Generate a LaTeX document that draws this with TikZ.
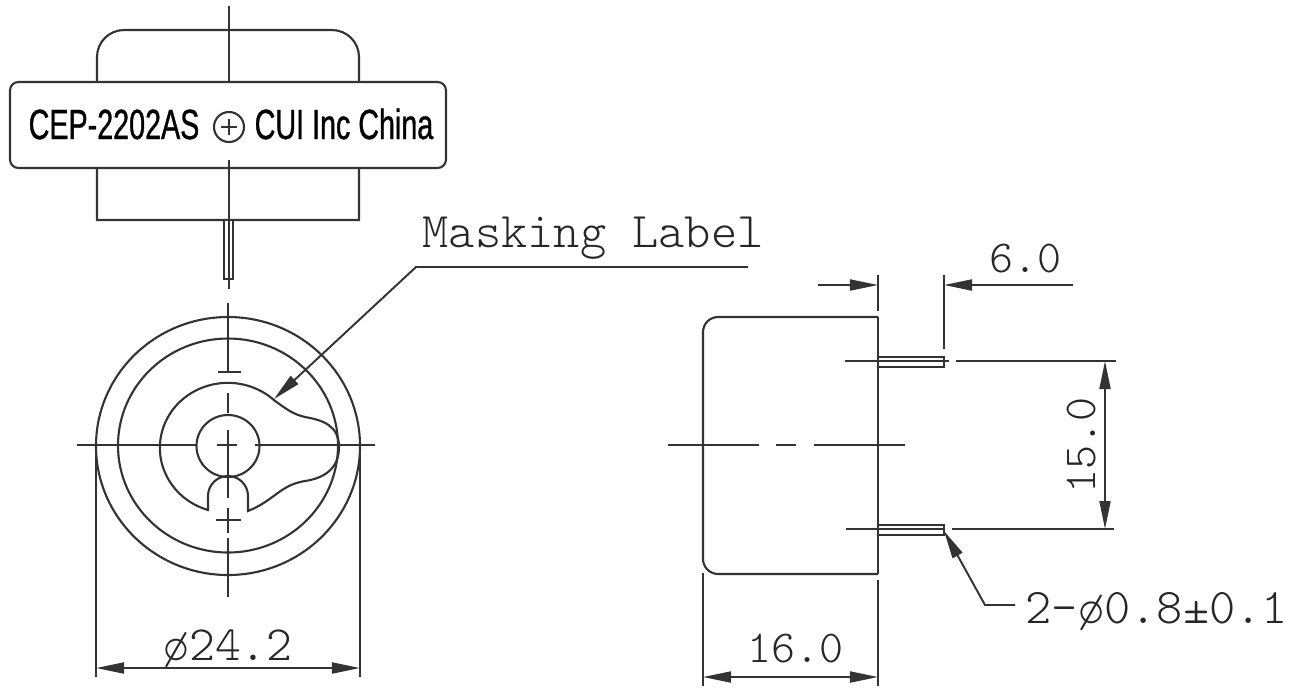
\documentclass[tikz,border=0pt]{standalone}
\usepackage{fontspec}
\newfontfamily\partfont[FakeStretch=0.68,FakeBold=0.8]{Liberation Sans}
\newfontfamily\dimfont{Latin Modern Mono Light}
\usetikzlibrary{arrows.meta}
\tikzset{
 partline/.style={line width=0.6pt, black!80},
 dimline/.style={line width=0.55pt, black!80},
 dimarrow/.style={dimline, -{Triangle[length=2.8mm,width=1.1mm]}},
 dimtext/.style={inner sep=0, text=black!85, font=\dimfont\fontsize{13}{13}\selectfont},
 widetext/.style={inner sep=0, text=black!85, font=\dimfont\fontsize{14.2}{14}\selectfont},
 parttext/.style={inner sep=0, anchor=base west, font=\partfont\fontsize{12}{12}\selectfont},
}
\begin{document}
\begin{tikzpicture} [x = 0.01cm, y=-0.01cm]
\useasboundingbox (0,0) rectangle (1297,687);
\draw[partline] (97,220) [rounded corners=7.7pt] -- (97,30) -- (359,30) [sharp corners] -- (359,220) -- cycle;
\draw[dimline] (229,6) -- (229,82);
\draw[partline, fill=white, rounded corners=2.4pt] (10,82) rectangle (446,168);
\draw[dimline] (229,160) -- (229,220);
\draw[partline, fill=white] (224,220) rectangle (233,279);
\draw[dimline] (229,220) -- (229,289);
\node[parttext] (partno) at (28,139) {CEP-2202AS};
\node[parttext] (maker) at (254,139) {CUI Inc China};
\draw[partline] (229,127) circle (15);
\draw[partline, line width=0.8pt] (221,127) -- (237,127) (229,119) -- (229,135);

\draw[partline] (228,446) ellipse (132 and 129) (228,445.5) ellipse (110 and 107) (228,446) ellipse (31.5 and 31);
\draw[partline] (208,510) arc[start angle=107, end angle=313, x radius=68, y radius=65]
 .. controls (285,408) and (292,414) .. (305,417)
 .. controls (322,420) and (339,425) .. (339,447)
 .. controls (339,468) and (325,478) .. (305,481)
 .. controls (280,485) and (275,500) .. (248,511)
 -- (248,496) arc[start angle=0, end angle=-180, radius=20] -- (208,511);
\foreach \a/\b in {77/197,217/237,255/375} {
 \draw[dimline] (\a,445) -- (\b,445);
}
\foreach \a/\b in {303/372,393/413,430/498,508/533,538/597} {
 \draw[dimline] (228,\a) -- (228,\b);
}
\draw[dimline] (218,372) -- (241,372) (216,520) -- (241,520);
\foreach \x in {96,360} {
 \draw[dimline] (\x,455) -- (\x,677);
}
\coordinate (diaL) at (96,668);
\coordinate (diaR) at (360,668);
\draw[dimarrow] (228,668) -- (diaL);
\draw[dimarrow] (228,668) -- (diaR);
\node[dimtext, font=\dimfont\fontsize{14}{14}\selectfont, anchor=base] (dia) at (228,660) {ø24.2};

\node[widetext, anchor=base west] (mask) at (422,247) {Masking Label};
\coordinate (maskEnd) at (748,267);
\coordinate (maskTip) at (274,399);
\draw[dimarrow] (maskEnd) -- (416,267) -- (maskTip);

\draw[partline, rounded corners=4.3pt] (878,317) -- (703,317) -- (703,574) -- (878,574);
\draw[partline] (878,317) -- (878,574);
\foreach \y in {357,525} {
 \draw[partline] (878,\y) rectangle (944,\y+10);
}
\foreach \a/\b in {668/759,776/796,814/905} {
 \draw[dimline] (\a,445) -- (\b,445);
}
\draw[dimline] (845,361) -- (949,361) (956,361) -- (1116,361);
\draw[dimline] (846,529) -- (944,529) (952,529) -- (1114,529);

\draw[dimline] (878,275) -- (878,311) (944,275) -- (944,349);
\coordinate (pinL) at (878,285);
\coordinate (pinR) at (944,285);
\draw[dimarrow] (818,285) -- (pinL);
\draw[dimarrow] (1073,285) -- (pinR);
\node[dimtext, anchor=base] (pinlen) at (1025,272) {6.0};

\coordinate (pitchT) at (1105,361);
\coordinate (pitchB) at (1105,529);
\draw[dimarrow] (1105,445) -- (pitchT);
\draw[dimarrow] (1105,445) -- (pitchB);
\node[dimtext, anchor=base, rotate=90] (pitch) at (1095,445) {15.0};

\draw[dimline] (703,573) -- (703,686) (878,580) -- (878,686);
\coordinate (depL) at (703,677);
\coordinate (depR) at (878,677);
\draw[dimarrow] (790,677) -- (depL);
\draw[dimarrow] (790,677) -- (depR);
\node[dimtext, anchor=base] (depth) at (795,662) {16.0};

\coordinate (pinTip) at (944,531);
\coordinate (pinEnd) at (1015,605);
\draw[dimarrow] (pinEnd) -- (985,605) -- (pinTip);
\node[widetext, anchor=base west] (pindia) at (1025,623) {2-ø0.8±0.1};
\end{tikzpicture}
\end{document}
